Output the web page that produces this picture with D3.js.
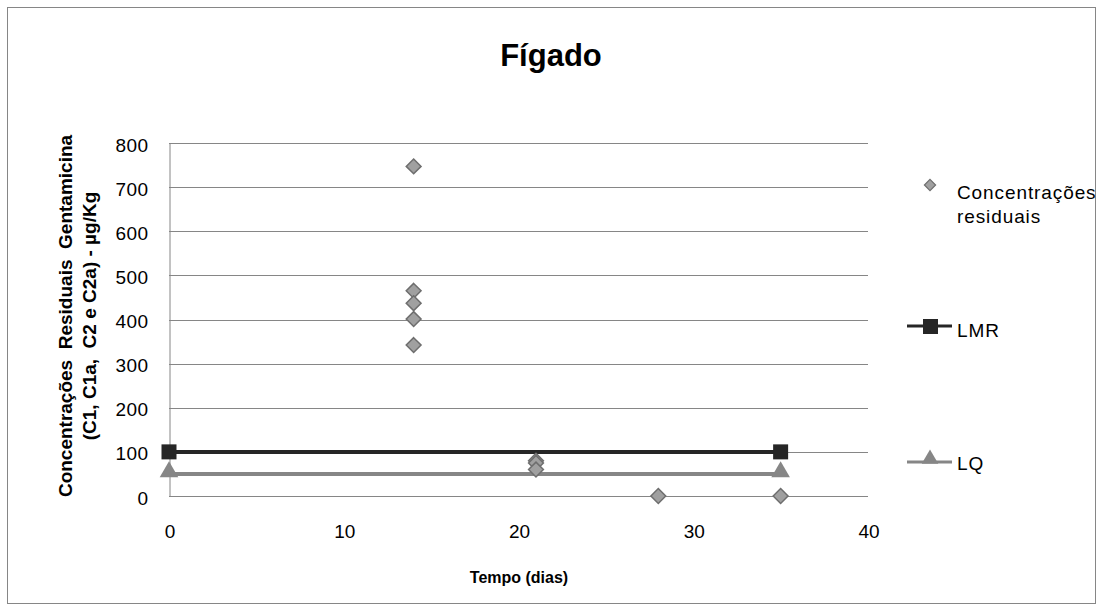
<!DOCTYPE html>
<html>
<head>
<meta charset="utf-8">
<script src="https://cdn.jsdelivr.net/npm/d3@7"></script>
<style>
  html, body { margin: 0; padding: 0; background: #fff; }
  text { font-family: "Liberation Sans", Arial, sans-serif; }
</style>
</head>
<body>
<svg id="chart" width="1103" height="611"></svg>
<script>
// Residual gentamicin concentrations in liver (µg/Kg) by withdrawal time (days)
const residualDays   = [14, 14, 14, 14, 14, 21, 21, 21, 28, 35];
const residualValues = [747, 465, 437, 401, 342, 80, 75, 60, 0, 0];
const lmrDays   = [0, 35];
const lmrValues = [100, 100];
const lqDays    = [0, 35];
const lqValues  = [50, 50];
const xTicks = [0, 10, 20, 30, 40];
const yTicks = [0, 100, 200, 300, 400, 500, 600, 700, 800];

const svg = d3.select("#chart");
const W = 1103, H = 611;

// outer frame
svg.append("rect").attr("x", 7.5).attr("y", 7.5).attr("width", W - 15).attr("height", H - 15)
  .attr("fill", "#fff").attr("stroke", "#868686").attr("stroke-width", 1);

const plot = { left: 169, right: 868, top: 143, bottom: 496 };
const x = d3.scaleLinear().domain([0, 40]).range([plot.left, plot.right]);
const y = d3.scaleLinear().domain([0, 800]).range([plot.bottom, plot.top]);

// horizontal gridlines
svg.append("g").selectAll("line").data(yTicks).join("line")
  .attr("x1", plot.left).attr("x2", plot.right)
  .attr("y1", d => Math.round(y(d)) + 0.5).attr("y2", d => Math.round(y(d)) + 0.5)
  .attr("stroke", "#868686").attr("stroke-width", 1);

// y axis
const yAxis = svg.append("g").attr("transform", `translate(${plot.left + 0.5},0.5)`)
  .call(d3.axisLeft(y).tickValues(yTicks).tickSize(0).tickPadding(21));
yAxis.select(".domain").attr("stroke", "#868686");
yAxis.selectAll("text").attr("font-size", 19).attr("fill", "#000").attr("dy", "0.4em")
  .attr("letter-spacing", 0.4);

// x axis tick labels
const xAxis = svg.append("g").attr("transform", `translate(0.5,${plot.bottom})`)
  .call(d3.axisBottom(x).tickValues(xTicks).tickSize(0));
xAxis.select(".domain").remove();
xAxis.selectAll("text").attr("font-size", 19).attr("fill", "#000").attr("y", 42).attr("dy", 0);

// LQ and LMR lines with markers
const line = d3.line().x(d => x(d[0])).y(d => y(d[1]));
const lmr = lmrDays.map((d, i) => [d, lmrValues[i]]);
const lq = lqDays.map((d, i) => [d, lqValues[i]]);

svg.append("path").datum(lq).attr("d", line)
  .attr("fill", "none").attr("stroke", "#868686").attr("stroke-width", 4);
const tri = d3.symbol().type(d3.symbolTriangle).size(150);
svg.append("g").selectAll("path").data(lq).join("path")
  .attr("d", tri).attr("transform", d => `translate(${x(d[0])},${y(d[1]) - 2})`)
  .attr("fill", "#868686");

svg.append("path").datum(lmr).attr("d", line)
  .attr("fill", "none").attr("stroke", "#262626").attr("stroke-width", 4);
svg.append("g").selectAll("rect").data(lmr).join("rect")
  .attr("x", d => x(d[0]) - 7.5).attr("y", d => y(d[1]) - 7.5)
  .attr("width", 15).attr("height", 15).attr("fill", "#262626");

// residual concentration points
const diamond = d3.symbol().type(d3.symbolDiamond2).size(140);
svg.append("g").selectAll("path").data(residualDays.map((d, i) => [d, residualValues[i]])).join("path")
  .attr("d", diamond).attr("transform", d => `translate(${x(d[0])},${y(d[1])})`)
  .attr("fill", "#a0a0a0").attr("stroke", "#6e6e6e").attr("stroke-width", 1.5);

// title
svg.append("text").attr("x", 551).attr("y", 66).attr("text-anchor", "middle")
  .attr("font-size", 31).attr("font-weight", "bold").text("Fígado");

// axis titles
svg.append("text").attr("x", 519).attr("y", 583).attr("text-anchor", "middle")
  .attr("font-size", 16).attr("font-weight", "bold").text("Tempo (dias)");

const yt = svg.append("text").attr("transform", "translate(0,316) rotate(-90)")
  .attr("text-anchor", "middle").attr("font-size", 19).attr("font-weight", "bold")
  .attr("xml:space", "preserve").style("white-space", "pre");
yt.append("tspan").attr("x", 0).attr("y", 72).text("Concentrações  Residuais  Gentamicina");
yt.append("tspan").attr("x", 0).attr("y", 96).text("(C1, C1a,  C2 e C2a) - µg/Kg");

// legend
const lg = svg.append("g").attr("font-size", 19).attr("letter-spacing", 0.9);
lg.append("path").attr("d", d3.symbol().type(d3.symbolDiamond2).size(80))
  .attr("transform", "translate(930,185)").attr("fill", "#a0a0a0").attr("stroke", "#6e6e6e").attr("stroke-width", 1.2);
lg.append("text").attr("x", 957).attr("y", 199).text("Concentrações");
lg.append("text").attr("x", 957).attr("y", 223).text("residuais");

lg.append("line").attr("x1", 907).attr("x2", 952).attr("y1", 326).attr("y2", 326)
  .attr("stroke", "#262626").attr("stroke-width", 3);
lg.append("rect").attr("x", 923).attr("y", 319).attr("width", 15).attr("height", 15).attr("fill", "#262626");
lg.append("text").attr("x", 957).attr("y", 337).text("LMR");

lg.append("line").attr("x1", 907).attr("x2", 952).attr("y1", 462).attr("y2", 462)
  .attr("stroke", "#868686").attr("stroke-width", 3);
lg.append("path").attr("d", d3.symbol().type(d3.symbolTriangle).size(120))
  .attr("transform", "translate(930,459)").attr("fill", "#868686");
lg.append("text").attr("x", 957).attr("y", 470).text("LQ");
</script>
</body>
</html>
